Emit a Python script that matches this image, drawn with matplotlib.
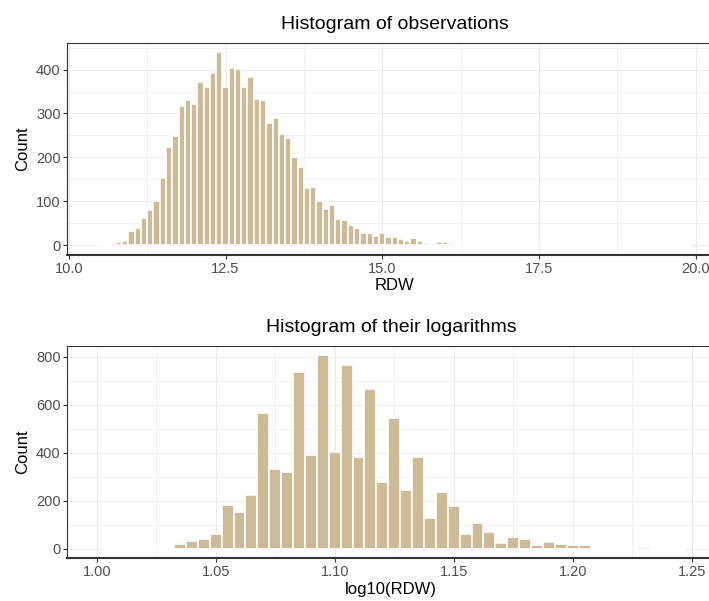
import numpy as np
import matplotlib
matplotlib.use("Agg")
import matplotlib.pyplot as plt
from matplotlib.ticker import MultipleLocator

plt.rcParams["font.family"] = ["Liberation Sans", "DejaVu Sans"]

# counts per 0.1 bin of RDW, first bin centred on 10.5
rdw_start = 10.5
rdw_binwidth = 0.1
rdw_counts = [
    0, 0, 0, 7, 11, 33, 40, 63, 80, 100,
    153, 223, 248, 316, 331, 321, 372, 361, 391, 439,
    361, 404, 402, 361, 382, 333, 331, 278, 289, 253,
    245, 200, 178, 131, 133, 100, 82, 92, 61, 57,
    46, 40, 27, 27, 21, 27, 18, 20, 15, 10,
    16, 10, 6, 3, 8, 7, 5, 0, 0, 0,
    0, 0, 0, 2, 0, 2, 0, 0, 1, 0,
    0, 0, 0, 0, 2, 0, 0, 0, 0, 0,
    0, 0, 0, 0, 0, 0, 0, 0, 0, 0,
    0, 0, 0, 0, 0,
]

# counts per 0.005 bin of log10(RDW), first bin centred on 1.005
log_start = 1.005
log_binwidth = 0.005
log_counts = [
    0, 0, 0, 0, 0, 0, 18, 31, 39, 63,
    182, 152, 223, 567, 331, 320, 736, 390, 805, 402,
    767, 381, 665, 277, 544, 244, 381, 129, 235, 178,
    61, 106, 71, 25, 50, 39, 14, 29, 19, 14,
    14, 0, 0, 0, 4, 5, 0, 0, 0,
]

FILL = "#CDBA96"
GRID = "#EBEBEB"
DARK = "#333333"
TICKTXT = "#4D4D4D"

fig = plt.figure(figsize=(7.09, 6.01), dpi=100)
ax1 = fig.add_axes([0.0949, 0.5757, 0.9238, 0.3532])
ax2 = fig.add_axes([0.0949, 0.0710, 0.9142, 0.3537])


def draw_hist(ax, start, width, counts, xlim, xmaj, ymaj, title, xlabel):
    counts = np.array(counts)
    centers = start + width * np.arange(len(counts))
    ax.bar(centers, counts, width=width, color=FILL, edgecolor="white",
           linewidth=1.2, zorder=2)
    top = counts.max() * 1.05
    ax.set_ylim(-counts.max() * 0.05, top)
    ax.set_xlim(*xlim)
    ax.xaxis.set_major_locator(MultipleLocator(xmaj))
    ax.xaxis.set_minor_locator(MultipleLocator(xmaj / 2))
    ax.yaxis.set_major_locator(MultipleLocator(ymaj))
    ax.yaxis.set_minor_locator(MultipleLocator(ymaj / 2))
    ax.set_axisbelow(True)
    ax.grid(True, which="major", color=GRID, linewidth=0.8)
    ax.grid(True, which="minor", color=GRID, linewidth=0.5)
    ax.tick_params(which="minor", length=0)
    ax.tick_params(which="major", length=2.75, width=0.8, color=DARK,
                   labelsize=10.5, labelcolor=TICKTXT, pad=2)
    for side in ["top", "left", "right"]:
        ax.spines[side].set_color(DARK)
        ax.spines[side].set_linewidth(0.8)
    ax.spines["bottom"].set_color(DARK)
    ax.spines["bottom"].set_linewidth(1.5)
    ax.set_title(title, fontsize=14, pad=10)
    ax.set_xlabel(xlabel, fontsize=12, labelpad=2)
    ax.set_ylabel("Count", fontsize=12, labelpad=4)


draw_hist(ax1, rdw_start, rdw_binwidth, rdw_counts, (9.975, 20.425), 2.5, 100,
          "Histogram of observations", "RDW")
ax1.xaxis.set_major_formatter(plt.FuncFormatter(lambda v, p: f"{v:.1f}"))

draw_hist(ax2, log_start, log_binwidth, log_counts, (0.98764, 1.26), 0.05, 200,
          "Histogram of their logarithms", "log10(RDW)")
ax2.xaxis.set_major_formatter(plt.FuncFormatter(lambda v, p: f"{v:.2f}"))

fig.savefig("out.png", dpi=100)
